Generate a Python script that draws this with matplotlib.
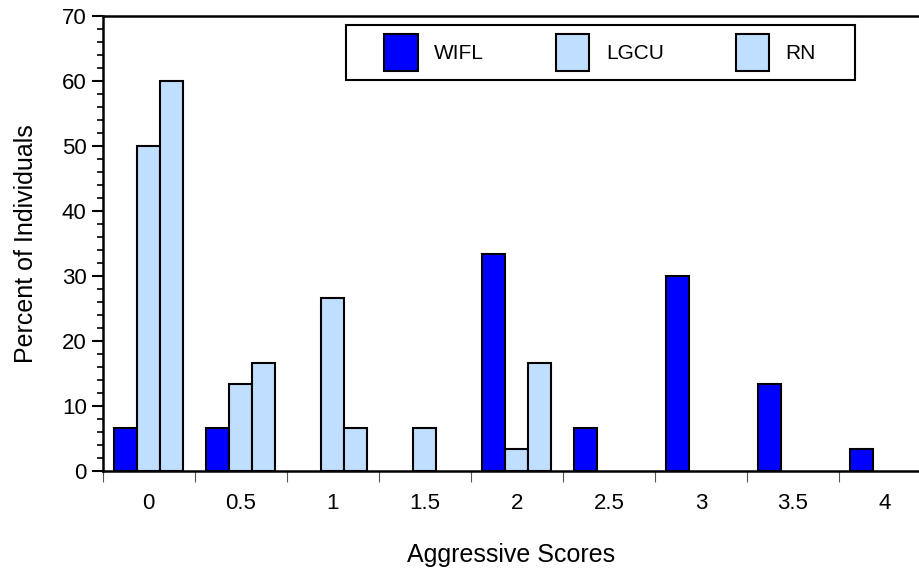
import matplotlib
matplotlib.use("Agg")
import matplotlib.pyplot as plt
from matplotlib.patches import Rectangle
import numpy as np

plt.rcParams['font.family'] = ['Liberation Sans', 'DejaVu Sans']

scores = ["0", "0.5", "1", "1.5", "2", "2.5", "3", "3.5", "4"]
wifl = [6.67, 6.67, 0, 0, 33.33, 6.67, 30, 13.33, 3.33]
lgcu = [50, 13.33, 26.67, 6.67, 3.33, 0, 0, 0, 0]
rn = [60, 16.67, 6.67, 0, 16.67, 0, 0, 0, 0]

dark = "#0000FF"
light = "#C0DEFF"

fig = plt.figure(figsize=(9.19, 5.69), dpi=100)
ax = fig.add_axes([0.1117, 0.1722, 0.8883, 0.7997])

x = np.arange(len(scores))
w = 0.25
for off, vals, col, lab in [(-w, wifl, dark, "WIFL"), (0, lgcu, light, "LGCU"), (w, rn, light, "RN")]:
    # no outline on empty bars
    lw = [1.5 if v > 0 else 0 for v in vals]
    ax.bar(x + off, vals, w, color=col, edgecolor="black", linewidth=lw, label=lab)

ax.set_yticks(range(0, 71, 10))
ax.set_yticks(range(0, 71, 2), minor=True)
ax.set_xticks(np.arange(-0.5, 8.6, 1))
ax.set_xticklabels([])
ax.set_xticks(x, minor=True)
ax.set_xticklabels(scores, minor=True)
ax.set_xlim(-0.5, 8.37)
ax.set_ylim(0, 70)
ax.tick_params(axis="x", which="major", length=8, width=0.8, color="#555555")
ax.tick_params(axis="x", which="minor", length=0, labelsize=16, pad=16)
ax.tick_params(axis="y", which="major", length=8, width=1.5, labelsize=16)
ax.tick_params(axis="y", which="minor", length=4.5, width=1.2)

for s in ["left", "top", "bottom"]:
    ax.spines[s].set_linewidth(1.8)
ax.spines["right"].set_visible(False)

ax.set_xlabel("Aggressive Scores", fontsize=18, labelpad=21)
ax.set_ylabel("Percent of Individuals", fontsize=18, labelpad=17)

leg = ax.legend(loc="center", bbox_to_anchor=(0.6094, 0.9198), ncol=3, fontsize=15,
                frameon=False, handlelength=1.6, handleheight=2.3,
                columnspacing=3.45, handletextpad=0.8, borderpad=0)
for h in leg.legend_handles:
    h.set_linewidth(1.5)
ax.add_patch(Rectangle((0.298, 0.859), 0.623, 0.121, transform=ax.transAxes,
                       fill=False, edgecolor="black", linewidth=1.5, clip_on=False, zorder=5))

fig.savefig("out.png", dpi=100)
